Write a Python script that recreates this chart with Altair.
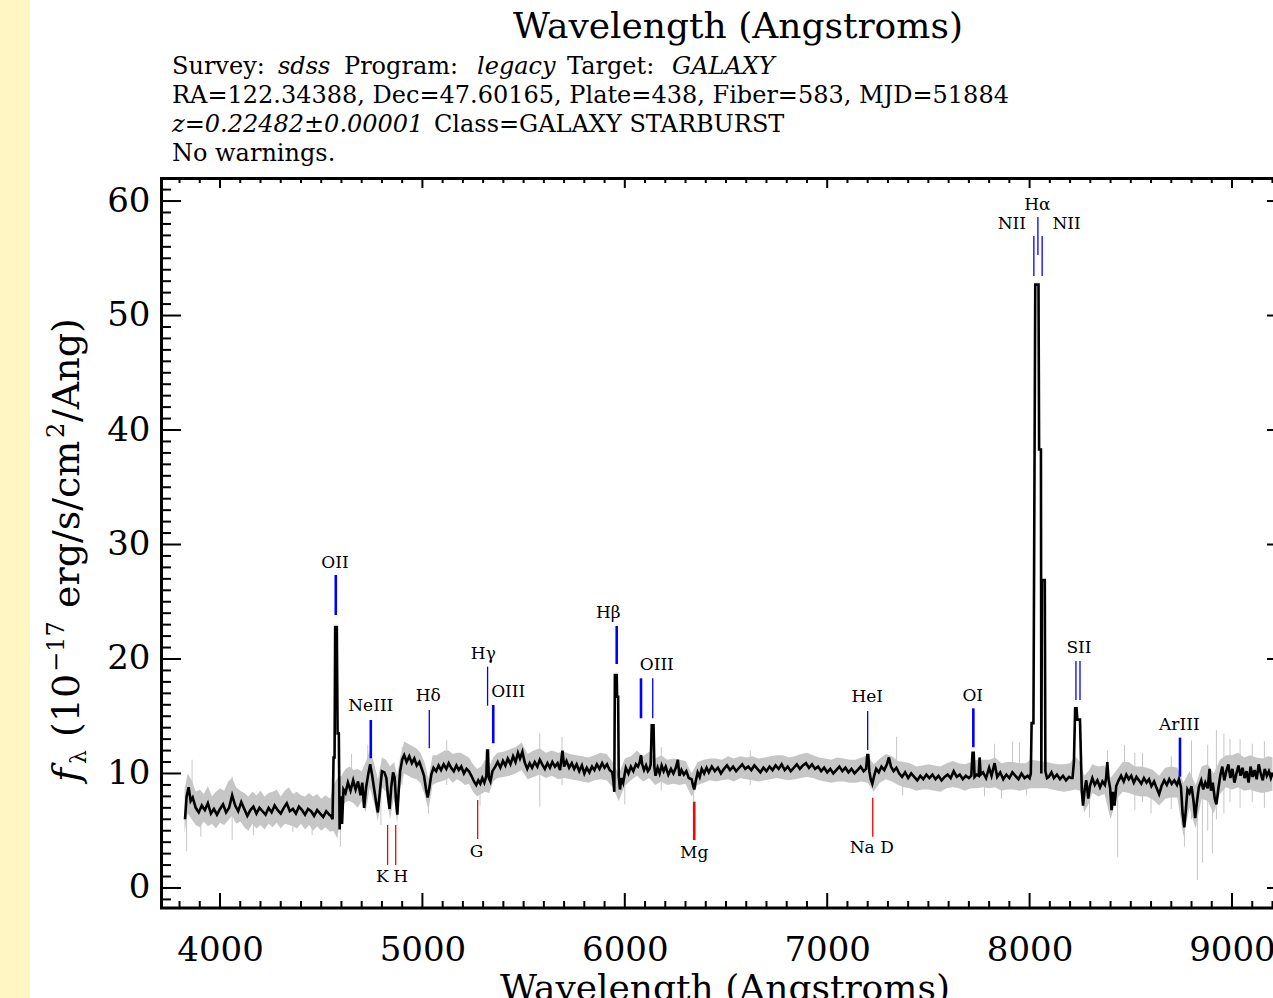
import altair as alt
import pandas as pd

# ---------------- spectrum (smoothed, black) : (wavelength, flux) ----------------
spec_blue = [
    (3827, 6.0), (3835, 8.0), (3845, 8.8), (3855, 7.6), (3865, 7.9), (3880, 7.0), (3895, 6.6),
    (3910, 7.2), (3925, 6.8), (3940, 7.4), (3955, 6.5), (3970, 6.9), (3985, 6.4), (4000, 6.9),
    (4015, 7.3), (4030, 6.6), (4045, 7.0), (4060, 8.1), (4075, 7.2), (4090, 6.7), (4105, 7.5),
    (4120, 6.9), (4135, 6.3), (4150, 6.8), (4165, 7.1), (4180, 6.5), (4195, 7.0), (4210, 6.7),
    (4225, 6.4), (4240, 7.0), (4255, 6.6), (4270, 7.2), (4285, 6.8), (4300, 6.5), (4315, 7.0),
    (4330, 7.4), (4345, 6.7), (4360, 6.9), (4375, 6.5), (4390, 7.1), (4405, 6.8), (4420, 6.4),
    (4435, 6.9), (4450, 6.7), (4465, 6.3), (4480, 6.8), (4495, 6.5), (4510, 6.2), (4525, 6.7),
    (4540, 6.4), (4548, 6.3), (4556, 6.0), (4561, 11.4), (4566, 11.4), (4569, 22.8), (4577, 22.8),
    (4581, 13.5), (4587, 13.5), (4591, 5.1), (4597, 8.0), (4603, 5.6), (4610, 8.6),
    (4620, 8.3), (4632, 9.2), (4645, 8.5), (4658, 9.4), (4670, 8.6), (4682, 9.3), (4694, 8.1),
    (4703, 9.2), (4712, 7.0), (4722, 8.8), (4733, 10.0), (4742, 10.8), (4752, 9.8), (4762, 8.6),
    (4772, 7.4), (4780, 6.6), (4790, 8.4), (4800, 10.2), (4812, 10.1), (4822, 9.6), (4830, 8.0),
    (4838, 6.9), (4846, 8.8), (4855, 10.1), (4863, 9.6), (4870, 7.5), (4876, 6.4), (4883, 8.5),
    (4890, 10.2), (4900, 11.2),
]
spec_green = [
    (4910, 11.6), (4922, 11.0), (4935, 11.5), (4948, 10.9), (4960, 11.3), (4972, 10.7), (4985, 11.0),
    (4997, 10.4), (5008, 9.8), (5018, 8.6), (5026, 7.9), (5034, 8.7), (5044, 9.9), (5055, 10.5),
    (5068, 10.2), (5080, 10.7), (5092, 10.3), (5105, 10.8), (5118, 10.4), (5130, 10.9), (5142, 10.5),
    (5155, 10.2), (5168, 10.7), (5180, 10.3), (5192, 10.6), (5205, 10.0), (5218, 10.4), (5230, 10.2),
    (5242, 9.8), (5255, 9.3), (5266, 9.0), (5276, 9.4), (5286, 9.1), (5296, 9.6), (5306, 9.2),
    (5316, 9.8), (5320, 12.0), (5324, 12.0), (5328, 9.6), (5336, 9.3), (5346, 10.2),
    (5360, 10.6), (5372, 11.0), (5385, 10.5), (5398, 11.1), (5410, 10.7), (5422, 11.3), (5435, 10.8),
    (5448, 11.5), (5460, 11.0), (5472, 11.8), (5482, 11.3), (5494, 11.9), (5505, 11.0), (5518, 10.4),
    (5530, 10.9), (5542, 10.5), (5555, 11.0), (5568, 10.6), (5580, 11.2), (5592, 10.8), (5605, 10.4),
    (5618, 10.9), (5630, 10.5), (5642, 11.0), (5655, 10.6), (5668, 10.9), (5680, 10.3), (5692, 12.0),
    (5700, 10.6), (5712, 11.1), (5725, 10.5), (5738, 10.9), (5750, 10.4), (5762, 10.8), (5775, 10.2),
    (5788, 10.7), (5800, 10.0), (5812, 10.5), (5825, 10.1), (5838, 10.6), (5850, 10.3), (5862, 10.8),
    (5875, 10.4), (5888, 10.9), (5900, 10.5), (5912, 10.8), (5925, 10.3), (5938, 10.1), (5944, 9.3),
    (5948, 8.4), (5951, 18.6), (5960, 18.6), (5962, 16.7), (5967, 16.7), (5970, 9.8), (5976, 8.6),
    (5984, 9.6), (5992, 9.2), (6005, 10.5), (6018, 10.0), (6030, 10.6), (6042, 10.2), (6055, 10.8),
    (6065, 10.6), (6074, 11.0), (6080, 11.6), (6086, 10.8), (6095, 10.3), (6105, 10.7), (6114, 10.2),
    (6122, 10.4), (6128, 10.8), (6133, 14.2), (6142, 14.2), (6146, 10.6), (6152, 9.8), (6162, 10.5),
    (6172, 10.0), (6182, 10.7), (6192, 10.2), (6202, 10.6), (6215, 9.9), (6228, 10.4), (6240, 10.0),
    (6252, 10.5), (6262, 11.2), (6270, 9.8), (6280, 10.3), (6292, 9.9), (6304, 10.2), (6316, 9.6),
    (6330, 9.5), (6338, 8.9), (6343, 8.6), (6350, 9.3), (6360, 10.1), (6370, 9.7), (6380, 10.4),
    (6392, 10.0), (6404, 10.5),
]
spec_red = [
    (6415, 10.1), (6430, 10.6), (6445, 10.2), (6460, 10.5), (6475, 10.0), (6490, 10.4), (6505, 10.7),
    (6520, 10.3), (6535, 10.6), (6550, 10.2), (6565, 10.5), (6580, 10.8), (6595, 10.4), (6610, 10.6),
    (6625, 10.3), (6640, 10.7), (6655, 10.4), (6670, 10.1), (6685, 10.5), (6700, 10.2), (6715, 10.6),
    (6730, 10.3), (6745, 10.7), (6760, 10.4), (6775, 10.8), (6790, 10.3), (6805, 10.6), (6820, 10.2),
    (6835, 10.5), (6850, 10.8), (6865, 10.4), (6880, 10.7), (6895, 10.9), (6910, 10.5), (6925, 10.8),
    (6940, 10.4), (6955, 10.6), (6970, 10.2), (6985, 10.5), (7000, 10.1), (7015, 10.4), (7030, 10.0),
    (7045, 10.3), (7060, 10.6), (7075, 10.2), (7090, 10.5), (7105, 10.1), (7120, 10.4), (7135, 10.0),
    (7150, 10.3), (7165, 10.6), (7180, 10.2), (7192, 10.4), (7198, 11.6), (7203, 11.6), (7208, 10.2),
    (7215, 9.5), (7223, 9.1), (7232, 9.8), (7242, 10.4), (7255, 10.1), (7268, 10.6), (7282, 10.3),
    (7295, 10.8), (7305, 11.4), (7315, 10.6), (7328, 10.2), (7342, 10.5), (7356, 10.0), (7370, 9.7),
    (7385, 10.1), (7400, 9.6), (7415, 10.0), (7430, 9.7), (7445, 9.4), (7460, 9.8), (7475, 9.5),
    (7490, 9.9), (7505, 9.6), (7520, 9.9), (7535, 9.5), (7550, 9.8), (7565, 9.4), (7580, 9.7),
    (7595, 9.9), (7610, 9.6), (7625, 10.2), (7640, 9.7), (7655, 9.9), (7670, 9.5), (7685, 9.8),
    (7700, 9.6), (7712, 9.8), (7718, 11.8), (7724, 11.8), (7728, 9.7), (7738, 9.9), (7748, 9.8),
    (7753, 11.4), (7758, 9.9), (7770, 10.1), (7785, 9.6), (7800, 10.5), (7812, 9.8), (7827, 10.9),
    (7840, 9.7), (7855, 10.1), (7870, 9.5), (7885, 9.9), (7900, 9.6), (7915, 10.1), (7930, 9.8),
    (7945, 9.5), (7960, 10.0), (7975, 9.6), (7990, 9.8), (8000, 9.6), (8006, 10.0), (8010, 14.4),
    (8019, 14.4), (8022, 26.9), (8028, 52.7), (8044, 52.7), (8047, 38.3), (8056, 38.3), (8058, 10.0),
    (8061, 26.9), (8075, 26.9), (8078, 10.2), (8086, 9.6), (8095, 9.7), (8108, 10.1), (8120, 9.6),
    (8135, 9.9), (8150, 9.5), (8165, 9.8), (8180, 9.4), (8195, 9.7), (8205, 9.6), (8212, 9.6),
    (8219, 11.0), (8225, 15.7), (8232, 15.7), (8236, 14.7), (8249, 14.7), (8254, 11.2), (8258, 8.5),
    (8264, 7.2), (8272, 8.6), (8280, 9.4), (8290, 7.8), (8298, 8.9), (8310, 9.6), (8322, 9.0),
    (8335, 9.4), (8348, 8.8), (8360, 9.3), (8372, 9.0), (8378, 9.6), (8384, 11.0), (8390, 9.5),
    (8398, 8.7), (8405, 6.8), (8412, 8.4), (8420, 7.2), (8428, 8.9), (8440, 9.4), (8452, 9.8),
    (8465, 9.3), (8478, 9.9), (8490, 9.5), (8502, 9.8), (8515, 9.2), (8528, 9.7), (8540, 9.4),
    (8552, 9.1), (8565, 9.6), (8578, 9.2), (8590, 9.5), (8602, 8.9), (8615, 9.3), (8628, 8.7),
    (8640, 8.2), (8652, 8.9), (8665, 9.4), (8678, 9.0), (8690, 9.5), (8702, 9.1), (8715, 9.4),
    (8728, 9.0), (8738, 9.5), (8748, 8.8), (8756, 6.5), (8764, 5.3), (8772, 6.8), (8780, 8.6),
    (8790, 8.3), (8800, 8.9), (8810, 7.6), (8818, 6.1), (8826, 7.4), (8836, 8.8), (8848, 9.4),
    (8858, 8.6), (8868, 9.2), (8880, 8.7), (8889, 10.4), (8896, 8.5), (8905, 9.2), (8915, 7.8),
    (8923, 7.3), (8932, 8.6), (8942, 9.8), (8952, 10.6), (8962, 9.4), (8972, 10.2), (8982, 10.8),
    (8992, 9.6), (9002, 10.4), (9012, 9.2), (9022, 10.0), (9032, 10.7), (9042, 9.8), (9052, 10.5),
    (9062, 9.6), (9072, 10.2), (9082, 9.2), (9092, 10.6), (9102, 9.7), (9112, 10.3), (9122, 9.5),
    (9132, 10.8), (9142, 10.0), (9152, 9.4), (9162, 10.4), (9172, 9.8), (9182, 10.2), (9192, 9.6),
    (9200, 10.0),
]

# ---------------- raw flux envelope (grey) : (wavelength, low, high) ----------------
grey_band = [
    (3825, 4.8, 8.6), (3840, 6.5, 10.0), (3860, 6.0, 9.4), (3880, 5.5, 8.4), (3900, 5.3, 8.6),
    (3920, 5.8, 8.2), (3940, 5.4, 8.9), (3960, 5.6, 8.0), (3980, 5.2, 8.4), (4000, 5.7, 8.7),
    (4020, 5.5, 8.5), (4040, 5.9, 9.3), (4060, 6.3, 9.6), (4080, 5.6, 8.8), (4100, 5.8, 8.5),
    (4120, 5.3, 8.3), (4140, 5.0, 8.0), (4160, 5.6, 8.4), (4180, 5.2, 8.1), (4200, 5.5, 8.5),
    (4220, 5.1, 8.0), (4240, 5.6, 8.3), (4260, 5.3, 8.4), (4280, 5.7, 8.6), (4300, 5.2, 8.0),
    (4320, 5.6, 8.5), (4340, 5.5, 8.8), (4360, 5.4, 8.2), (4380, 5.2, 8.4), (4400, 5.6, 8.1),
    (4420, 5.1, 8.0), (4440, 5.5, 8.3), (4460, 5.0, 8.0), (4480, 5.4, 8.2), (4500, 5.0, 7.8),
    (4520, 5.3, 8.1), (4545, 4.9, 7.8), (4560, 5.0, 9.0), (4580, 4.3, 9.6), (4600, 7.0, 9.8),
    (4620, 7.5, 10.4), (4640, 7.6, 10.6), (4660, 7.4, 10.3), (4680, 7.0, 10.4), (4700, 7.6, 10.2),
    (4720, 6.6, 11.0), (4740, 8.8, 12.0), (4760, 7.5, 11.0), (4780, 5.8, 9.5), (4800, 8.8, 11.4),
    (4820, 8.4, 11.2), (4840, 6.0, 10.6), (4860, 8.0, 11.0), (4875, 5.6, 9.8), (4890, 8.8, 11.4),
    (4910, 10.0, 12.8), (4930, 9.8, 12.6), (4950, 9.6, 12.4), (4970, 9.5, 12.2), (4990, 9.2, 11.8),
    (5010, 8.2, 11.0), (5030, 6.8, 9.5), (5050, 9.0, 11.6), (5070, 9.2, 11.6), (5090, 9.3, 11.8),
    (5110, 9.4, 12.0), (5130, 9.6, 12.0), (5150, 9.2, 11.7), (5170, 9.5, 11.8), (5190, 9.3, 11.8),
    (5210, 9.0, 11.6), (5230, 9.1, 11.4), (5250, 8.4, 10.8), (5270, 8.0, 10.4), (5290, 8.2, 10.6),
    (5310, 8.4, 11.2), (5330, 8.3, 10.6), (5350, 9.3, 11.4), (5370, 9.6, 11.8), (5400, 9.7, 11.9),
    (5430, 9.8, 12.1), (5460, 10.0, 12.3), (5490, 10.3, 12.7), (5520, 9.5, 11.7), (5550, 9.7, 12.0),
    (5580, 9.9, 12.2), (5610, 9.6, 11.8), (5640, 9.8, 12.0), (5670, 9.5, 11.8), (5700, 9.6, 11.9),
    (5730, 9.5, 11.7), (5760, 9.4, 11.6), (5790, 9.3, 11.5), (5820, 9.2, 11.4), (5850, 9.4, 11.6),
    (5880, 9.5, 11.8), (5910, 9.4, 11.7), (5940, 8.8, 11.0), (5970, 7.6, 9.9), (6000, 8.9, 11.3),
    (6030, 9.4, 11.5), (6060, 9.8, 12.0), (6090, 9.3, 11.5), (6120, 9.6, 11.9), (6150, 9.0, 11.3),
    (6180, 9.3, 11.6), (6210, 9.0, 11.2), (6240, 9.1, 11.3), (6270, 9.0, 11.2), (6300, 9.1, 11.1),
    (6330, 8.0, 10.0), (6360, 9.0, 11.0), (6390, 9.2, 11.2), (6420, 9.4, 11.3), (6450, 9.3, 11.3),
    (6480, 9.4, 11.2), (6510, 9.5, 11.5), (6540, 9.3, 11.3), (6570, 9.6, 11.5), (6600, 9.5, 11.4),
    (6630, 9.4, 11.5), (6660, 9.3, 11.3), (6690, 9.4, 11.4), (6720, 9.5, 11.5), (6750, 9.6, 11.6),
    (6780, 9.5, 11.6), (6810, 9.4, 11.4), (6840, 9.5, 11.5), (6870, 9.6, 11.7), (6900, 9.7, 11.8),
    (6930, 9.6, 11.6), (6960, 9.4, 11.4), (6990, 9.3, 11.3), (7020, 9.2, 11.2), (7050, 9.3, 11.4),
    (7080, 9.3, 11.3), (7110, 9.2, 11.2), (7140, 9.2, 11.2), (7170, 9.3, 11.4), (7200, 9.2, 11.6),
    (7230, 8.4, 10.8), (7260, 9.2, 11.3), (7290, 9.5, 11.7), (7320, 9.3, 11.5), (7350, 9.0, 11.1),
    (7380, 8.8, 11.0), (7410, 8.7, 10.9), (7440, 8.5, 10.6), (7470, 8.6, 10.7), (7500, 8.6, 10.8),
    (7530, 8.5, 10.7), (7560, 8.4, 10.6), (7590, 8.7, 10.9), (7620, 8.8, 11.1), (7650, 8.7, 10.9),
    (7680, 8.5, 10.8), (7710, 8.7, 11.0), (7740, 8.7, 11.2), (7770, 8.8, 11.2), (7800, 8.7, 11.2),
    (7830, 8.8, 11.4), (7860, 8.5, 10.9), (7890, 8.6, 11.0), (7920, 8.6, 11.0), (7950, 8.5, 10.9),
    (7980, 8.6, 10.9), (8005, 8.7, 11.2), (8085, 8.7, 11.0), (8110, 8.6, 10.9), (8140, 8.5, 10.8),
    (8170, 8.4, 10.8), (8200, 8.5, 10.9), (8225, 8.6, 11.5), (8250, 8.5, 11.0), (8270, 6.6, 9.8),
    (8290, 7.3, 10.2), (8310, 8.3, 10.8), (8340, 8.0, 10.6), (8370, 8.2, 10.7), (8400, 6.0, 9.6),
    (8430, 7.8, 10.3), (8460, 8.4, 11.0), (8490, 8.3, 11.0), (8520, 8.1, 10.6), (8550, 8.0, 10.6),
    (8580, 8.0, 10.5), (8610, 7.7, 10.3), (8640, 7.2, 9.8), (8670, 7.8, 10.5), (8700, 7.9, 10.6),
    (8730, 7.9, 10.5), (8760, 4.5, 9.2), (8790, 7.0, 10.2), (8820, 5.2, 9.0), (8850, 7.8, 10.6),
    (8880, 7.6, 10.8), (8910, 6.5, 10.0), (8940, 8.2, 11.2), (8970, 8.8, 11.6), (9000, 8.6, 11.6),
    (9030, 8.8, 11.8), (9060, 8.5, 11.4), (9090, 8.6, 11.6), (9120, 8.4, 11.4), (9150, 8.3, 11.3),
    (9180, 8.4, 11.5), (9200, 8.5, 11.4),
]
grey_spikes = [
    (3835, 3.2, 8.0), (3862, 8.0, 11.2), (3905, 4.5, 8.0), (4060, 4.2, 9.7), (4165, 4.6, 7.0),
    (4360, 4.9, 7.5), (4455, 4.6, 8.0), (4595, 3.6, 7.0), (4650, 9.0, 11.7), (4730, 9.0, 12.5),
    (4795, 5.5, 9.0), (4900, 9.0, 12.3), (5030, 6.5, 9.0), (5120, 9.0, 12.9), (5285, 7.2, 10.0),
    (5580, 7.1, 13.5), (5690, 9.0, 13.2), (6000, 7.3, 10.0), (6180, 8.5, 12.3), (6340, 7.6, 10.0),
    (6620, 9.0, 12.0), (7343, 9.5, 13.2), (7373, 8.1, 10.5), (7777, 8.0, 10.5), (7827, 9.5, 12.6),
    (7861, 7.8, 10.2), (7916, 9.5, 12.8), (7950, 9.5, 12.7), (7985, 8.1, 10.0), (8296, 6.2, 9.5),
    (8385, 9.0, 12.0), (8435, 2.7, 9.0), (8469, 9.0, 12.5), (8520, 6.8, 11.8), (8558, 7.5, 11.8),
    (8600, 6.5, 10.0), (8700, 6.9, 11.5), (8765, 3.6, 9.0), (8800, 6.0, 12.9), (8829, 0.7, 8.0),
    (8854, 2.2, 10.0), (8880, 5.0, 12.5), (8903, 3.0, 9.5), (8923, 6.0, 13.8), (8960, 6.5, 13.5),
    (8990, 7.5, 13.0), (9040, 7.0, 13.0), (9100, 7.5, 12.6), (9160, 7.0, 12.8),
]

# ---------------- line markers : (wavelength, bottom, top, kind) ----------------
emission_marks = [
    (4572, 23.84, 27.34, "thick"), (4745, 11.33, 14.67, "thick"), (5034, 12.20, 15.55, "thin"),
    (5322, 15.92, 19.33, "thin"), (5350, 12.64, 15.98, "thick"), (5960, 19.56, 22.88, "thick"),
    (6080, 14.82, 18.31, "thick"), (6138, 14.82, 18.31, "thin"), (7200, 12.05, 15.46, "thin"),
    (7722, 12.29, 15.69, "thick"), (8021, 53.45, 56.94, "thin"), (8041, 55.28, 58.60, "thin"),
    (8062, 53.45, 56.94, "thin"), (8229, 16.42, 19.83, "thin"), (8249, 16.42, 19.83, "thin"),
    (8743, 9.72, 13.13, "thick"),
]
absorption_marks = [
    (4828, 2.01, 5.50, "thin"), (4868, 2.01, 5.50, "thin"), (5273, 4.28, 7.69, "thin"),
    (6343, 4.19, 7.54, "thick"), (7225, 4.48, 7.89, "thin"),
]
line_labels = [
    ("OII", 4568, 28.41), ("NeIII", 4745, 15.92), ("Hδ", 5029, 16.79), ("Hγ", 5301, 20.44),
    ("OIII", 5424, 17.14), ("Hβ", 5918, 24.04), ("OIII", 6158, 19.48), ("K", 4802, 0.93),
    ("H", 4893, 0.93), ("G", 5268, 3.17), ("Mg", 6343, 3.03), ("HeI", 7198, 16.66),
    ("OI", 7719, 16.77), ("Na D", 7220, 3.47), ("SII", 8244, 20.93), ("ArIII", 8740, 14.24),
    ("Hα", 8038, 59.65), ("NII", 7912, 57.97), ("NII", 8183, 57.97),
]

x_tick_labels = [4000, 5000, 6000, 7000, 8000, 9000]
y_tick_labels = [0, 10, 20, 30, 40, 50, 60]
x_minor = [w for w in range(3800, 9300, 100) if w % 1000 != 0]
y_minor = [v for v in range(-1, 63) if v % 10 != 0]

# ---------------- frames ----------------
spec_df = pd.DataFrame(spec_blue + spec_green + spec_red, columns=["wl", "flux"])
band_df = pd.DataFrame(grey_band, columns=["wl", "lo", "hi"])
spike_df = pd.DataFrame(grey_spikes, columns=["wl", "lo", "hi"])
em_df = pd.DataFrame(emission_marks, columns=["wl", "lo", "hi", "kind"])
ab_df = pd.DataFrame(absorption_marks, columns=["wl", "lo", "hi", "kind"])
lab_df = pd.DataFrame(line_labels, columns=["label", "wl", "flux"])

W, H = 1113, 731
SERIF = "DejaVu Serif"
xs = alt.Scale(domain=[3703.5, 9202.6], nice=False, zero=False)
ys = alt.Scale(domain=[-1.75, 62.1], nice=False, zero=False)
xa = alt.Axis(values=x_tick_labels, format="d", title=None, ticks=False, tickSize=0, domain=False,
              grid=False, labelFont=SERIF, labelFontSize=34, labelColor="black", labelPadding=25,
              labelOverlap=False, labelFlush=False)
ya = alt.Axis(values=y_tick_labels, format="d", title=None, ticks=False, tickSize=0, domain=False,
              grid=False, labelFont=SERIF, labelFontSize=34, labelColor="black", labelPadding=10,
              labelOverlap=False, labelFlush=False)

def X(f):
    return alt.X(f, type="quantitative", scale=xs, axis=xa)

def Y(f):
    return alt.Y(f, type="quantitative", scale=ys, axis=ya)

layers = []
layers.append(alt.Chart(band_df).mark_area(color="#c6c6c6", opacity=1, clip=True)
              .encode(x=X("wl"), y=Y("lo"), y2="hi"))
layers.append(alt.Chart(spike_df).mark_rule(color="#c6c6c6", strokeWidth=1, clip=True)
              .encode(x=X("wl"), y=Y("lo"), y2="hi"))
layers.append(alt.Chart(spec_df).mark_line(color="black", strokeWidth=2.6, clip=True)
              .encode(x=X("wl"), y=Y("flux")))
for df, col in ((em_df, "#0000ff"), (ab_df, "#ff0000")):
    for kind, sw in (("thick", 2.6), ("thin", 1.3)):
        sub = df[df.kind == kind]
        if len(sub):
            layers.append(alt.Chart(sub).mark_rule(color=col, strokeWidth=sw)
                          .encode(x=X("wl"), y=Y("lo"), y2="hi"))
layers.append(alt.Chart(lab_df).mark_text(font=SERIF, fontSize=17, color="black",
                                          align="center", baseline="middle")
              .encode(x=X("wl"), y=Y("flux"), text="label:N"))

# ticks (inward, IDL style)
xt_major = pd.DataFrame({"t": x_tick_labels})
xt_minor = pd.DataFrame({"t": x_minor})
yt_major = pd.DataFrame({"t": y_tick_labels})
yt_minor = pd.DataFrame({"t": y_minor})
tick = dict(color="black", strokeWidth=2)
layers.append(alt.Chart(xt_major).mark_rule(**tick).encode(x=X("t"), y=alt.value(H), y2=alt.value(H - 15)))
layers.append(alt.Chart(xt_minor).mark_rule(**tick).encode(x=X("t"), y=alt.value(H), y2=alt.value(H - 7)))
layers.append(alt.Chart(xt_major).mark_rule(**tick).encode(x=X("t"), y=alt.value(0), y2=alt.value(11)))
layers.append(alt.Chart(xt_minor).mark_rule(**tick).encode(x=X("t"), y=alt.value(0), y2=alt.value(6)))
layers.append(alt.Chart(yt_major).mark_rule(**tick).encode(y=Y("t"), x=alt.value(0), x2=alt.value(21)))
layers.append(alt.Chart(yt_minor).mark_rule(**tick).encode(y=Y("t"), x=alt.value(0), x2=alt.value(11)))
layers.append(alt.Chart(yt_major).mark_rule(**tick).encode(y=Y("t"), x=alt.value(W - 6), x2=alt.value(W)))

ONE = pd.DataFrame({"k": [0]})

def frame(x, x2, y, y2, w=3):
    return alt.Chart(ONE).mark_rule(color="black", strokeWidth=w).encode(
        x=alt.value(x), x2=alt.value(x2), y=alt.value(y), y2=alt.value(y2))

layers += [frame(1.5, 1.5, 0, H), frame(0, W, 1.5, 1.5), frame(0, W, H, H)]

def txt(s, x, y, size, style="normal", align="left", baseline="alphabetic", angle=0):
    return alt.Chart(ONE).mark_text(text=s, font=SERIF, fontSize=size, fontStyle=style,
                                    align=align, baseline=baseline, angle=angle,
                                    color="black").encode(x=alt.value(x), y=alt.value(y))

OX, OY = 160, 177  # page position of plot origin
def T(s, px, py, size, **kw):
    return txt(s, px - OX, py - OY, size, **kw)

# yellow strip on the page's left edge
layers.append(alt.Chart(ONE).mark_rect(color="#fff6c4").encode(
    x=alt.value(-OX), x2=alt.value(30 - OX), y=alt.value(-OY), y2=alt.value(998 - OY)))

HS = 24
layers += [
    T("Wavelength (Angstroms)", 738, 38, 36, align="center"),
    T("Survey:", 172, 74, HS), T("sdss", 278, 74, HS, style="italic"),
    T("Program:", 344, 74, HS), T("legacy", 477, 74, HS, style="italic"),
    T("Target:", 567, 74, HS), T("GALAXY", 672, 74, HS, style="italic"),
    T("RA=122.34388, Dec=47.60165, Plate=438, Fiber=583, MJD=51884", 172, 103, HS),
    T("z=0.22482±0.00001", 172, 132, HS, style="italic"),
    T("Class=GALAXY STARBURST", 434, 132, HS),
    T("No warnings.", 172, 161, HS),
    T("Wavelength (Angstroms)", 725, 1000, 36, align="center"),
    # rotated y-axis title
    T("f", 79, 782, 38, style="italic", angle=270),
    T("λ", 86, 764, 22, angle=270),
    T("(10", 79, 737, 38, angle=270),
    T("−17", 64, 672, 24, angle=270),
    T("erg/s/cm", 79, 608, 38, angle=270),
    T("2", 64, 438, 24, angle=270),
    T("/Ang)", 79, 422, 38, angle=270),
]

chart = alt.layer(*layers).properties(
    width=W, height=H,
    padding={"left": OX, "top": OY, "right": 0, "bottom": 998 - OY - H},
    autosize=alt.AutoSizeParams(type="none"),
    background="white",
).configure_view(strokeWidth=0)

chart.save("out.html", embed_options={"renderer": "svg", "actions": False})
